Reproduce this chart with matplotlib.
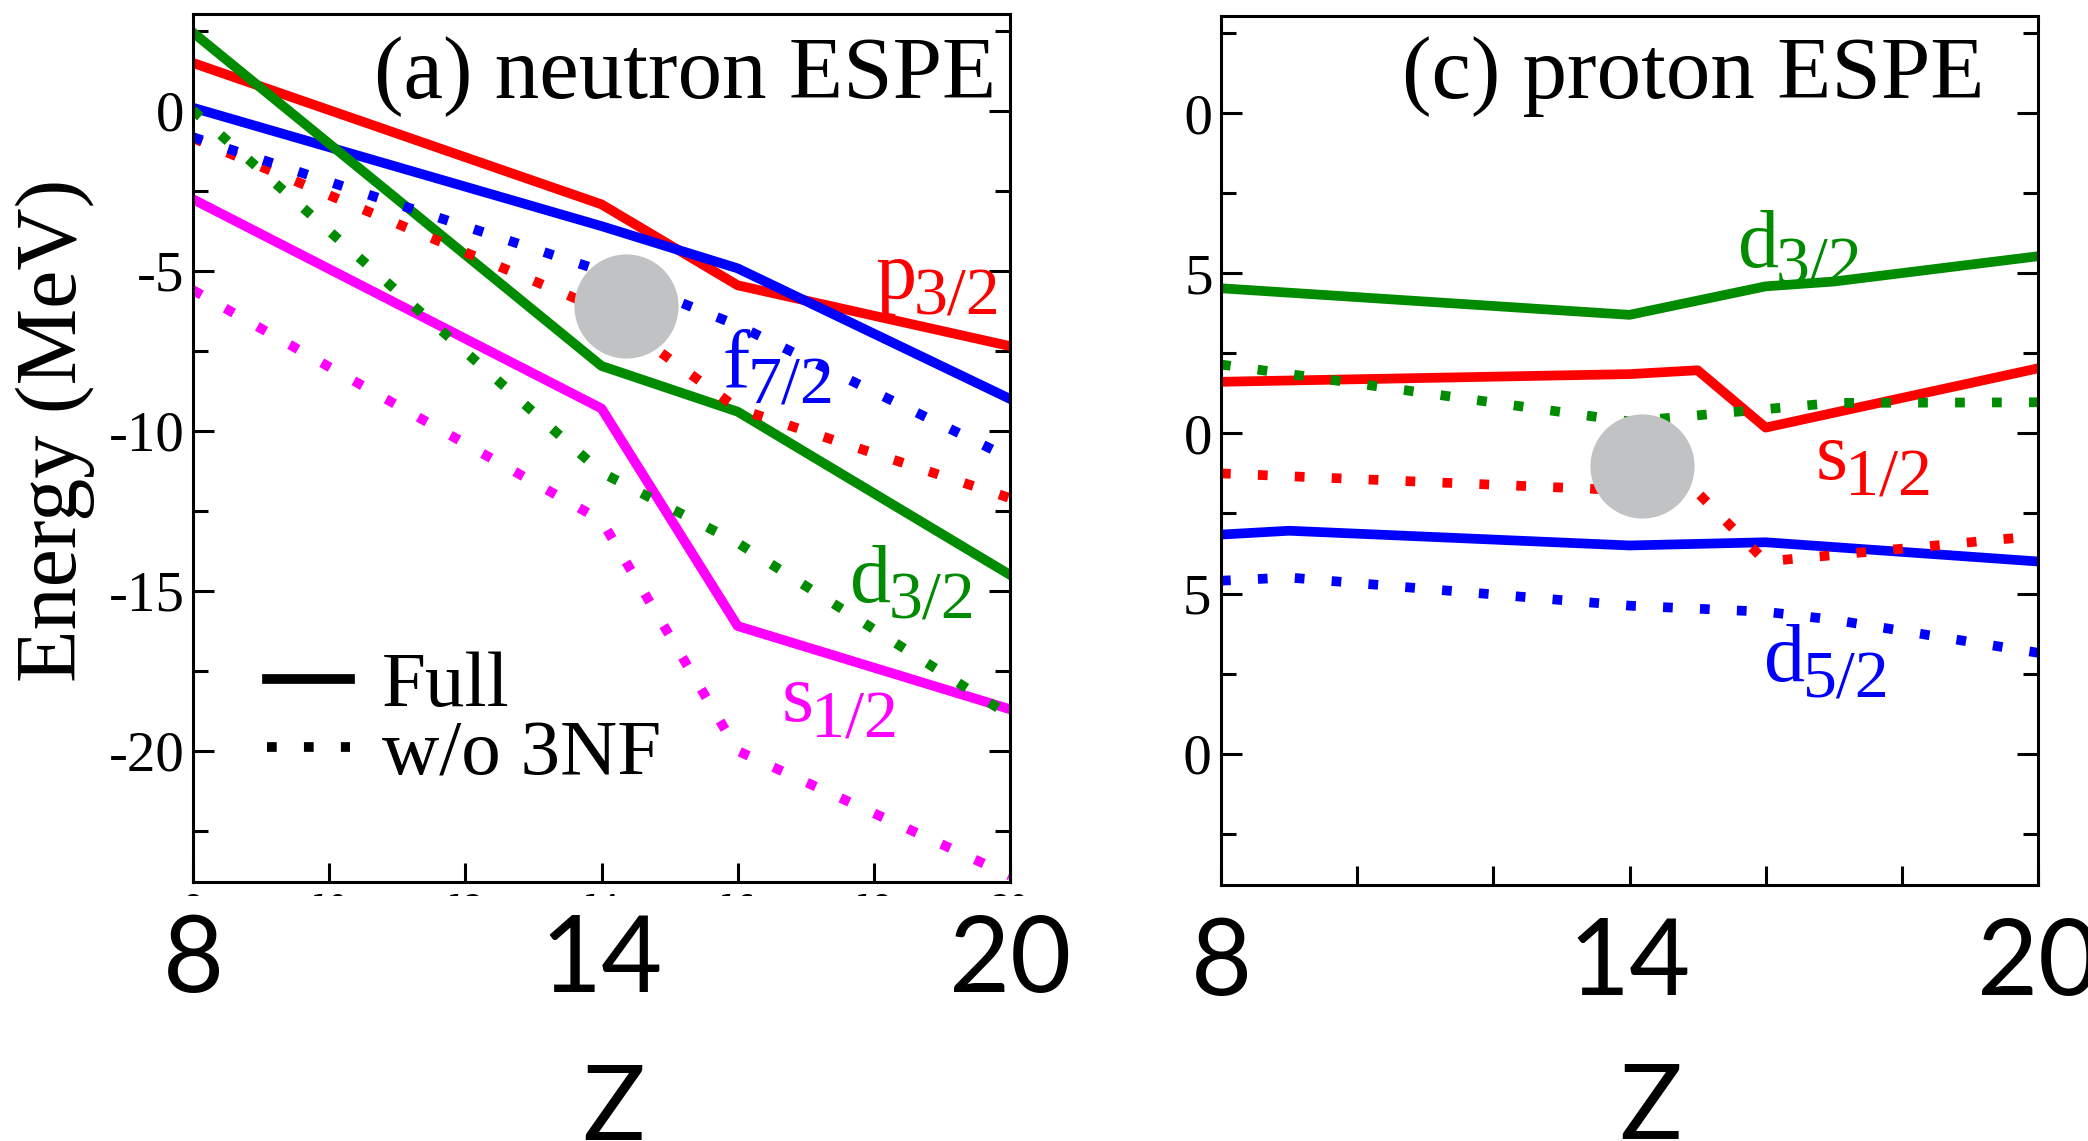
import matplotlib
matplotlib.use('Agg')
import matplotlib.pyplot as plt
from matplotlib.lines import Line2D
from matplotlib.ticker import MultipleLocator
from matplotlib.transforms import Bbox, TransformedBbox

plt.rcParams['font.family'] = ['Liberation Serif', 'DejaVu Serif']
plt.rcParams['axes.unicode_minus'] = False

# ---- neutron ESPE (MeV) vs Z ----
z_n = [8, 14, 16, 20]
n_p32_full = [1.5, -2.92, -5.45, -7.35]
n_f72_full = [0.1, -3.6, -4.92, -9.0]
n_d32_full = [2.45, -7.97, -9.4, -14.5]
n_s12_full = [-2.76, -9.3, -16.1, -18.7]
n_p32_wo = [-0.85, -6.2, -9.3, -12.1]
n_f72_wo = [-0.82, -5.0, -6.7, -10.85]
n_d32_wo = [0.02, -11.3, -13.5, -18.9]
n_s12_wo = [-5.6, -12.8, -20.0, -23.9]

# ---- proton ESPE (MeV) vs Z ----
pz_d32_full = [8, 14, 16, 17, 20]
p_d32_full = [4.53, 3.70, 4.59, 4.74, 5.53]
pz_s12_full = [8, 14, 15, 16, 20]
p_s12_full = [1.61, 1.85, 1.97, 0.18, 2.03]
pz_d52_full = [8, 9, 14, 16, 20]
p_d52_full = [-3.16, -3.04, -3.5, -3.4, -4.0]
pz_d32_wo = [8, 14, 17, 20]
p_d32_wo = [2.15, 0.37, 0.95, 0.97]
pz_s12_wo = [8, 14, 15, 16, 20]
p_s12_wo = [-1.25, -1.78, -1.85, -4.0, -3.2]
pz_d52_wo = [8, 9, 14, 16, 17, 20]
p_d52_wo = [-4.6, -4.5, -5.38, -5.57, -5.82, -6.85]

# grey blobs
blob_n = (14.36, -6.09)
blob_p = (14.18, -1.03)

RED, BLUE, GREEN, MAG = '#ff0000', '#0000ff', '#008b00', '#ff00ff'
LW = 7.0
DOT = (0, (1.0, 2.8))
W, H = 2088, 1141

fig = plt.figure(figsize=(W / 100, H / 100), dpi=100)
ax1 = fig.add_axes([193 / W, 1 - 882 / H, 817 / W, 868 / H])
ax2 = fig.add_axes([1221 / W, 1 - 885 / H, 817 / W, 869 / H])


def orbital(ax, z, e, letter, sub, color):
    t = ax.text(z, e, letter, color=color, fontsize=59, ha='left', va='baseline')
    ax.annotate(sub, xy=(1, 0), xycoords=t, xytext=(-2, 1), textcoords='offset points',
                color=color, fontsize=49, ha='left', va='baseline')


def style(ax):
    for sp in ax.spines.values():
        sp.set_linewidth(2.2)
    ax.set_xlim(8, 20)
    ax.set_xticks(range(8, 21, 2))
    ax.yaxis.set_major_locator(MultipleLocator(5))
    ax.yaxis.set_minor_locator(MultipleLocator(2.5))
    ax.tick_params(axis='y', which='both', direction='in', left=True, right=True, width=2.2)
    ax.tick_params(axis='y', which='major', length=15, labelsize=41, pad=6)
    ax.tick_params(axis='y', which='minor', length=11)
    ax.tick_params(axis='x', direction='in', length=14, width=2.2, top=False)
    sec = ax.secondary_xaxis('bottom')
    sec.set_xticks([8, 14, 20], labels=['8', '14', '20'])
    sec.tick_params(length=0, pad=23, labelsize=76, labelfontfamily='Lato')
    sec.spines['bottom'].set_visible(False)


# ---------- (a) neutron ----------
ax1.plot(z_n, n_p32_full, color=RED, lw=LW)
ax1.plot(z_n, n_f72_full, color=BLUE, lw=LW)
ax1.plot(z_n, n_d32_full, color=GREEN, lw=LW)
ax1.plot(z_n, n_s12_full, color=MAG, lw=LW)
ax1.plot(z_n, n_p32_wo, color=RED, lw=LW, ls=DOT)
ax1.plot(z_n, n_f72_wo, color=BLUE, lw=LW, ls=DOT)
ax1.plot(z_n, n_d32_wo, color=GREEN, lw=LW, ls=DOT)
ax1.plot(z_n, n_s12_wo, color=MAG, lw=LW, ls=DOT)
ax1.plot([blob_n[0]], [blob_n[1]], 'o', ms=75, color='#c1c2c4', mec='none', zorder=5)

ax1.set_ylim(-24.1, 3.03)
style(ax1)
ax1.tick_params(axis='x', labelsize=21, pad=8, labelfontfamily='DejaVu Sans')
# small tick labels are cut off just below their tops
clip_x = TransformedBbox(Bbox.from_extents(0, (H - 896) / H, 1, 1), fig.transFigure)
for t in ax1.get_xticklabels():
    t.set_clip_box(clip_x)
    t.set_clip_on(True)

ax1.set_ylabel('Energy (MeV)', fontsize=62)
ax1.yaxis.set_label_coords(-0.12, 0.52)
ax1.set_xlabel('Z', fontsize=75, fontfamily='Lato')
ax1.xaxis.label.set_va('baseline')
ax1.xaxis.set_label_coords(0.515, -0.297)

ax1.text(0.983, 0.903, '(a) neutron ESPE', transform=ax1.transAxes,
         ha='right', va='baseline', fontsize=64)
orbital(ax1, 18.03, -5.84, 'p', '3/2', RED)
orbital(ax1, 15.78, -8.63, 'f', '7/2', BLUE)
orbital(ax1, 17.65, -15.34, 'd', '3/2', GREEN)
orbital(ax1, 16.65, -19.06, 's', '1/2', MAG)

handles = [Line2D([], [], color='k', lw=LW), Line2D([], [], color='k', lw=LW, ls=DOT)]
ax1.legend(handles, ['Full', 'w/o 3NF'], loc='center left', bbox_to_anchor=(0.091, 0.185),
           frameon=False, fontsize=57, handlelength=1.05, handletextpad=0.4,
           labelspacing=-0.05, borderpad=0, borderaxespad=0)

# ---------- (c) proton ----------
ax2.plot(pz_d32_full, p_d32_full, color=GREEN, lw=LW)
ax2.plot(pz_s12_full, p_s12_full, color=RED, lw=LW)
ax2.plot(pz_d52_full, p_d52_full, color=BLUE, lw=LW)
ax2.plot(pz_d32_wo, p_d32_wo, color=GREEN, lw=LW, ls=DOT)
ax2.plot(pz_s12_wo, p_s12_wo, color=RED, lw=LW, ls=DOT)
ax2.plot(pz_d52_wo, p_d52_wo, color=BLUE, lw=LW, ls=DOT)
ax2.plot([blob_p[0]], [blob_p[1]], 'o', ms=75, color='#c1c2c4', mec='none', zorder=5)

ax2.set_ylim(-14.1, 13.03)
style(ax2)
ax2.tick_params(axis='x', labelbottom=False)
# y labels are cut so only their last digit shows
clip_y = TransformedBbox(Bbox.from_extents(1182 / W, 0, 1, 1), fig.transFigure)
for t in ax2.get_yticklabels():
    t.set_clip_box(clip_y)
    t.set_clip_on(True)

ax2.set_xlabel('Z', fontsize=75, fontfamily='Lato')
ax2.xaxis.label.set_va('baseline')
ax2.xaxis.set_label_coords(0.526, -0.292)

ax2.text(0.934, 0.906, '(c) proton ESPE', transform=ax2.transAxes,
         ha='right', va='baseline', fontsize=64)
orbital(ax2, 15.59, 5.19, 'd', '3/2', GREEN)
orbital(ax2, 16.73, -1.41, 's', '1/2', RED)
orbital(ax2, 15.98, -7.72, 'd', '5/2', BLUE)

fig.savefig('out.png', dpi=100)
